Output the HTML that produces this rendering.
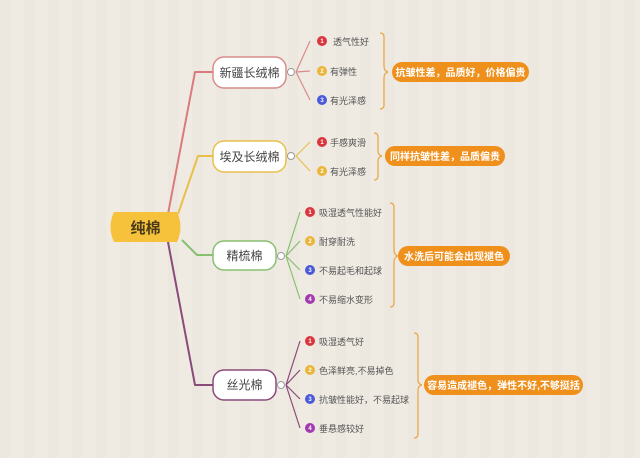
<!DOCTYPE html>
<html><head><meta charset="utf-8"><style>
html,body{margin:0;padding:0;width:640px;height:458px;overflow:hidden;background:#efebe3}
svg{display:block}
text{font-family:"Liberation Sans","Noto Sans CJK SC",sans-serif}
</style></head><body>
<svg width="640" height="458" viewBox="0 0 640 458">
<defs>
<pattern id="st" width="24" height="458" patternUnits="userSpaceOnUse">
<rect width="24" height="458" fill="#efebe3"/><rect x="0" width="10" height="458" fill="#ece8df"/>
</pattern>
</defs>
<rect width="640" height="458" fill="url(#st)"/>
<!-- trunk lines -->
<g fill="none" stroke-width="2" stroke-linejoin="round">
<path d="M168 214 L195 72 L213 72" stroke="#d97b7b"/>
<path d="M178 214 L198 156 L213 156" stroke="#e8c04a"/>
<path d="M182 240 L197 255 L213 255" stroke="#88c070"/>
<path d="M168 242 L195 385 L213 385" stroke="#8a4a7a"/>
</g>
<!-- fans -->
<g fill="none" stroke-width="1.2">
<g stroke="#d98a8a"><path d="M296 72 L310 41 M296 72 L310 71 M296 72 L310 100"/></g>
<g stroke="#e8c04a"><path d="M296 156 L310 142 M296 156 L310 171"/></g>
<g stroke="#88c070"><path d="M286 256 L300 212 M286 256 L300 241 M286 256 L300 270 M286 256 L300 299"/></g>
<g stroke="#8a4a7a"><path d="M286 385 L300 341 M286 385 L300 370 M286 385 L300 399 M286 385 L300 428"/></g>
</g>
<!-- root -->
<path d="M114 212 L177 212 Q184 227 177 242 L114 242 Q107 227 114 212 Z" fill="#f6c23b"/>
<text x="145.5" y="233" font-size="15" font-weight="bold" fill="#4a3a1a" text-anchor="middle">纯棉</text>
<!-- branch nodes -->
<g stroke-width="1.5" fill="#fff">
<rect x="213" y="57" width="73" height="31" rx="11" stroke="#d98a8a"/>
<rect x="213" y="141" width="73" height="31" rx="11" stroke="#e8c04a"/>
<rect x="213" y="241" width="63" height="29" rx="11" stroke="#88c070"/>
<rect x="213" y="370" width="63" height="30" rx="11" stroke="#8a4a7a"/>
</g>
<g font-size="12" fill="#444" text-anchor="middle">
<text x="249.5" y="77">新疆长绒棉</text>
<text x="249.5" y="161">埃及长绒棉</text>
<text x="244.5" y="260">精梳棉</text>
<text x="244.5" y="389">丝光棉</text>
</g>
<g fill="#fff" stroke="#999" stroke-width="1">
<circle cx="291" cy="72" r="3.5"/><circle cx="291" cy="156" r="3.5"/>
<circle cx="281" cy="256" r="3.5"/><circle cx="281" cy="385" r="3.5"/>
</g>
<!-- leaves -->
<g font-size="9" fill="#555">
<circle cx="322" cy="41" r="5" fill="#d9363e"/><text x="333" y="45">透气性好</text>
<circle cx="322" cy="71" r="5" fill="#ebb53a"/><text x="330" y="75">有弹性</text>
<circle cx="322" cy="100" r="5" fill="#4a5ad8"/><text x="330" y="104">有光泽感</text>
<circle cx="322" cy="142" r="5" fill="#d9363e"/><text x="330" y="146">手感爽滑</text>
<circle cx="322" cy="171" r="5" fill="#ebb53a"/><text x="330" y="175">有光泽感</text>
<circle cx="310" cy="212" r="5" fill="#d9363e"/><text x="319" y="216">吸湿透气性能好</text>
<circle cx="310" cy="241" r="5" fill="#ebb53a"/><text x="319" y="245">耐穿耐洗</text>
<circle cx="310" cy="270" r="5" fill="#4a5ad8"/><text x="319" y="274">不易起毛和起球</text>
<circle cx="310" cy="299" r="5" fill="#a23ab0"/><text x="319" y="303">不易缩水变形</text>
<circle cx="310" cy="341" r="5" fill="#d9363e"/><text x="319" y="345">吸湿透气好</text>
<circle cx="310" cy="370" r="5" fill="#ebb53a"/><text x="319" y="374">色泽鲜亮,不易掉色</text>
<circle cx="310" cy="399" r="5" fill="#4a5ad8"/><text x="319" y="403">抗皱性能好，不易起球</text>
<circle cx="310" cy="428" r="5" fill="#a23ab0"/><text x="319" y="432">垂悬感较好</text>
</g>
<g font-size="6" fill="#fff" text-anchor="middle" font-weight="bold">
<text x="322" y="43">1</text><text x="322" y="73">2</text><text x="322" y="102">3</text>
<text x="322" y="144">1</text><text x="322" y="173">2</text>
<text x="310" y="214">1</text><text x="310" y="243">2</text><text x="310" y="272">3</text><text x="310" y="301">4</text>
<text x="310" y="343">1</text><text x="310" y="372">2</text><text x="310" y="401">3</text><text x="310" y="430">4</text>
</g>
<!-- braces -->
<g fill="none" stroke="#e9a84a" stroke-width="1.3">
<path d="M380 33 Q384 33 384 37 L384 66 Q384 71 388 72 Q384 73 384 78 L384 105 Q384 109 380 109"/>
<path d="M374 133 Q378 133 378 137 L378 151 Q378 155 382 156 Q378 157 378 161 L378 176 Q378 180 374 180"/>
<path d="M390 203 Q394 203 394 207 L394 250 Q394 255 398 256 Q394 257 394 262 L394 303 Q394 307 390 307"/>
<path d="M414 333 Q418 333 418 337 L418 380 Q418 384 422 385 Q418 386 418 390 L418 434 Q418 438 414 438"/>
</g>
<!-- labels -->
<g fill="#f0901c">
<rect x="392" y="62" width="137" height="20" rx="10"/>
<rect x="385" y="146" width="120" height="20" rx="10"/>
<rect x="398" y="246" width="112" height="20" rx="10"/>
<rect x="424" y="375" width="159" height="20" rx="10"/>
</g>
<g font-size="10" font-weight="bold" fill="#fff" text-anchor="middle">
<text x="460.5" y="76">抗皱性差，品质好，价格偏贵</text>
<text x="445" y="160">同样抗皱性差，品质偏贵</text>
<text x="454" y="260">水洗后可能会出现褪色</text>
<text x="503.5" y="389">容易造成褪色，弹性不好,不够挺括</text>
</g>
</svg>
</body></html>
